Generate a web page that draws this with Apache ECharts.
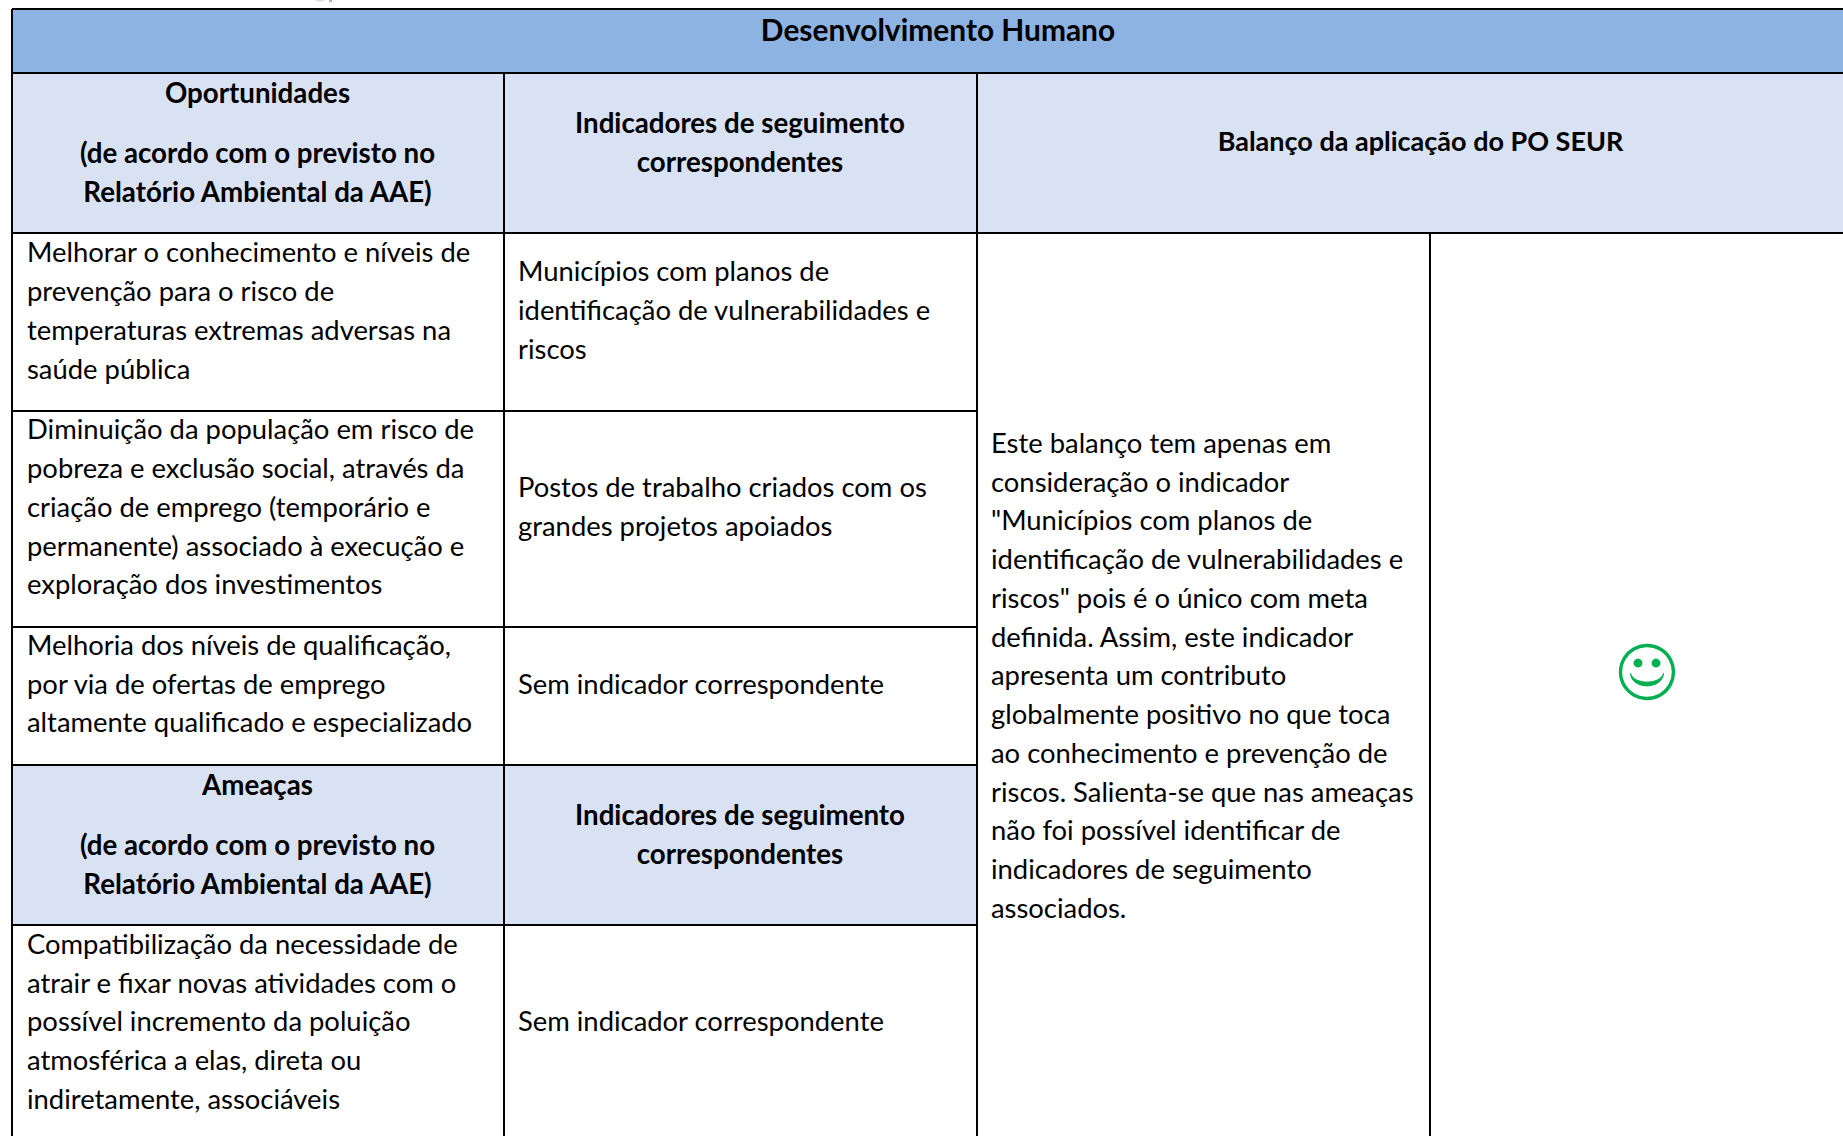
<!DOCTYPE html>
<html>
<head>
<meta charset="utf-8">
<style>
  html, body { margin: 0; padding: 0; background: #fff; }
  #main { width: 1843px; height: 1136px; }
  #main text { font-variant-ligatures: none; }
</style>
<script src="https://cdn.jsdelivr.net/npm/echarts@6/dist/echarts.min.js"></script>
</head>
<body>
<div id="main"></div>
<script>
// textos da tabela
const titulo = ['Desenvolvimento Humano'];
const headOportunidades = ['Oportunidades'];
const headPrevisto = ['(de acordo com o previsto no', 'Relatório Ambiental da AAE)'];
const headAmeacas = ['Ameaças'];
const headIndicadores = ['Indicadores de seguimento', 'correspondentes'];
const headBalanco = ['Balanço da aplicação do PO SEUR'];
const oportunidade1 = ['Melhorar o conhecimento e níveis de', 'prevenção para o risco de', 'temperaturas extremas adversas na', 'saúde pública'];
const oportunidade2 = ['Diminuição da população em risco de', 'pobreza e exclusão social, através da', 'criação de emprego (temporário e', 'permanente) associado à execução e', 'exploração dos investimentos'];
const oportunidade3 = ['Melhoria dos níveis de qualificação,', 'por via de ofertas de emprego', 'altamente qualificado e especializado'];
const ameaca1 = ['Compatibilização da necessidade de', 'atrair e fixar novas atividades com o', 'possível incremento da poluição', 'atmosférica a elas, direta ou', 'indiretamente, associáveis'];
const indicador1 = ['Municípios com planos de', 'identificação de vulnerabilidades e', 'riscos'];
const indicador2 = ['Postos de trabalho criados com os', 'grandes projetos apoiados'];
const semIndicador = ['Sem indicador correspondente'];
const balanco = ['Este balanço tem apenas em', 'consideração o indicador', '"Municípios com planos de', 'identificação de vulnerabilidades e', 'riscos" pois é o único com meta', 'definida. Assim, este indicador', 'apresenta um contributo', 'globalmente positivo no que toca', 'ao conhecimento e prevenção de', 'riscos. Salienta-se que nas ameaças', 'não foi possível identificar de', 'indicadores de seguimento', 'associados.'];

// grelha da tabela, em pixels da imagem
const W = 1843, H = 1136;
const colX = [12, 504, 977, 1430];
const rowY = [9, 73, 233, 411, 627, 765, 925];

const HEAD = '#8DB3E2', SUB = '#D9E2F3', LINE = '#000', GREEN = '#00B050';
const LH = 38.75;
const FONT = 'Lato';
const BODY = 27.4, BOLD = 27.7;
const TEXT_DY = -2.2;

const fills = [
  [316, 0, 324, 1.5, '#DDDDDD'], // resto da linha cortada no topo
  [329, 0, 332, 2, '#AAB4B4'],
  [colX[0], rowY[0], W, rowY[1], HEAD],
  [colX[0], rowY[1], W, rowY[2], SUB],
  [colX[0], rowY[5], colX[2], rowY[6], SUB]
];
// [x1, y1, x2, y2, largura]
const rules = [
  [colX[0], rowY[0], W, rowY[0], 2],
  [colX[0], rowY[1], W, rowY[1], 2],
  [colX[0], rowY[2], W, rowY[2], 2],
  [colX[0], rowY[3], colX[2], rowY[3], 2],
  [colX[0], rowY[4], colX[2], rowY[4], 2],
  [colX[0], rowY[5], colX[2], rowY[5], 2],
  [colX[0], rowY[6], colX[2], rowY[6], 2],
  [colX[0], rowY[0], colX[0], H, 2],
  [colX[1], rowY[1], colX[1], H, 2],
  [colX[2], rowY[1], colX[2], H, 2],
  [colX[3], rowY[2], colX[3], H, 2]
];

const lines = [];
function block(txt, x, y, size, bold, align) {
  txt.forEach(function (t, i) {
    lines.push({ value: [x, y + TEXT_DY + i * LH], text: t, size: size, bold: bold, align: align });
  });
}
block(titulo, 938, 31.5, 29.9, true, 'center');
block(headOportunidades, 257.5, 95, BOLD, true, 'center');
block(headPrevisto, 257.5, 155, BOLD, true, 'center');
block(headIndicadores, 740, 124.5, BOLD, true, 'center');
block(headBalanco, 1420.5, 142.5, 27, true, 'center');
block(oportunidade1, 27, 254, BODY, false, 'left');
block(indicador1, 518, 273, BODY, false, 'left');
block(oportunidade2, 27, 431, BODY, false, 'left');
block(indicador2, 518, 489, BODY, false, 'left');
block(oportunidade3, 27, 646.5, BODY, false, 'left');
block(semIndicador, 518, 685.5, BODY, false, 'left');
block(headAmeacas, 257.5, 787, BOLD, true, 'center');
block(headPrevisto, 257.5, 846.5, BOLD, true, 'center');
block(headIndicadores, 740, 816.5, BOLD, true, 'center');
block(ameaca1, 27, 945.5, BODY, false, 'left');
block(semIndicador, 518, 1023, BODY, false, 'left');
block(balanco, 991, 444.5, BODY, false, 'left');

var myChart = echarts.init(document.getElementById('main'), null, { renderer: 'svg' });

var option = {
  animation: false,
  backgroundColor: '#fff',
  grid: { left: 0, right: 0, top: 0, bottom: 0 },
  xAxis: { type: 'value', min: 0, max: W, show: false },
  yAxis: { type: 'value', min: 0, max: H, inverse: true, show: false },
  series: [
    {
      type: 'custom',
      coordinateSystem: 'cartesian2d',
      silent: true,
      clip: false,
      data: fills.map(function (f) { return f.slice(0, 4); }),
      renderItem: function (params, api) {
        var a = api.coord([api.value(0), api.value(1)]);
        var b = api.coord([api.value(2), api.value(3)]);
        return {
          type: 'rect',
          shape: { x: a[0], y: a[1], width: b[0] - a[0], height: b[1] - a[1] },
          style: { fill: fills[params.dataIndex][4] }
        };
      }
    },
    {
      type: 'custom',
      coordinateSystem: 'cartesian2d',
      silent: true,
      clip: false,
      data: rules,
      renderItem: function (params, api) {
        var a = api.coord([api.value(0), api.value(1)]);
        var b = api.coord([api.value(2), api.value(3)]);
        return {
          type: 'line',
          shape: { x1: a[0], y1: a[1], x2: b[0], y2: b[1] },
          style: { stroke: LINE, lineWidth: api.value(4) }
        };
      }
    },
    {
      type: 'custom',
      coordinateSystem: 'cartesian2d',
      silent: true,
      clip: false,
      data: lines.map(function (l) { return l.value; }),
      renderItem: function (params, api) {
        var l = lines[params.dataIndex];
        var p = api.coord(l.value);
        return {
          type: 'text',
          style: {
            x: p[0],
            y: p[1],
            text: l.text,
            fill: '#000',
            font: (l.bold ? 'bold ' : '') + l.size + 'px ' + FONT,
            align: l.align,
            verticalAlign: 'middle'
          }
        };
      }
    },
    {
      // carinha verde
      type: 'custom',
      coordinateSystem: 'cartesian2d',
      silent: true,
      clip: false,
      data: [[1647, 672]],
      renderItem: function (params, api) {
        var p = api.coord([api.value(0), api.value(1)]);
        return {
          type: 'group',
          x: p[0],
          y: p[1],
          children: [
            { type: 'circle', shape: { cx: 0, cy: 0, r: 26.5 }, style: { fill: 'none', stroke: GREEN, lineWidth: 3.4 } },
            { type: 'circle', shape: { cx: -9, cy: -9, r: 4.4 }, style: { fill: GREEN } },
            { type: 'circle', shape: { cx: 9, cy: -9, r: 4.4 }, style: { fill: GREEN } },
            { type: 'path', shape: { pathData: 'M-16.5 1.5 C-15 18 15 18 16.5 1.5 C13 13 -13 13 -16.5 1.5 Z' }, style: { fill: GREEN, stroke: GREEN, lineWidth: 1 } }
          ]
        };
      }
    }
  ]
};

myChart.setOption(option);
</script>
</body>
</html>
